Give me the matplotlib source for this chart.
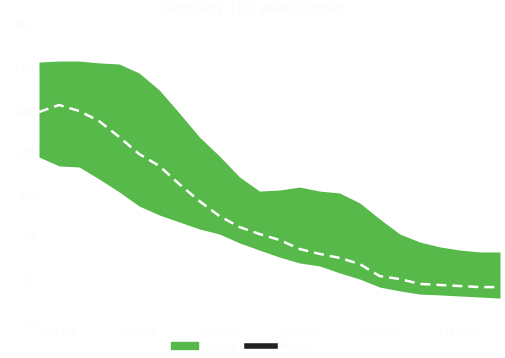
import matplotlib.pyplot as plt
from matplotlib.patches import Patch
from matplotlib.lines import Line2D

# weekly samples
weeks = list(range(24))
upper = [122.9, 123.4, 123.4, 122.5, 122.0, 117.7, 109.7, 98.8, 87.5, 78.5,
         68.6, 61.9, 62.4, 63.8, 61.9, 61.0, 56.3, 48.7, 41.6, 37.8,
         35.5, 34.0, 33.1, 33.1]
lower = [78.0, 73.8, 73.3, 67.6, 61.5, 54.8, 50.6, 47.3, 44.0, 41.6,
         37.4, 34.0, 30.7, 27.9, 26.5, 23.2, 20.3, 16.5, 14.7, 13.2,
         12.8, 12.3, 11.8, 11.3]
mean = [99.3, 102.6, 99.8, 95.0, 87.5, 79.4, 73.8, 65.2, 57.2, 50.1,
        44.9, 41.6, 38.8, 34.5, 32.2, 30.3, 27.4, 21.7, 20.3, 18.0,
        17.5, 17.0, 16.5, 16.5]
xticks = [1, 5, 9, 13, 17, 21]
xlabels = ['Jan 08', 'Feb 05', 'Mar 05', 'Apr 02', 'Apr 30', 'May 28']
ylabels = [0, 20, 40, 60, 80, 100, 120]

green = '#56b94a'
faint = '#fbfbfb'

fig = plt.figure(figsize=(5.06, 3.58), dpi=100)
ax = fig.add_axes([39 / 506, 0.1006, 461 / 506, 0.827])

ax.fill_between(weeks, lower, upper, color=green, lw=0)
ax.plot(weeks, mean, color='white', lw=1.8, ls=(0, (4, 2.4)))

ax.set_xlim(weeks[0], weeks[-1])
ax.set_ylim(0, 140)
ax.set_yticks(ylabels)
ax.set_xticks(xticks)
ax.set_xticklabels(xlabels)
ax.tick_params(colors=faint, labelcolor=faint, length=0, labelsize=8)
for s in ax.spines.values():
    s.set_visible(False)

fig.text(0.5, 0.975, 'Germany 100 weeks index', ha='center', va='center',
         color=faint, fontsize=10)
fig.text(0.03, 0.93, 'kg', ha='left', va='center', color=faint, fontsize=8)

handles = [Patch(color=green), Line2D([], [], color='#222222', lw=4)]
fig.legend(handles, ['Range', 'Mean'], loc='lower center', ncol=2,
           frameon=False, fontsize=8, labelcolor=faint,
           bbox_to_anchor=(0.475, -0.01), handlelength=2.5, handleheight=0.5,
           columnspacing=0.8, handletextpad=0.4)

fig.savefig('out.png', dpi=100)
